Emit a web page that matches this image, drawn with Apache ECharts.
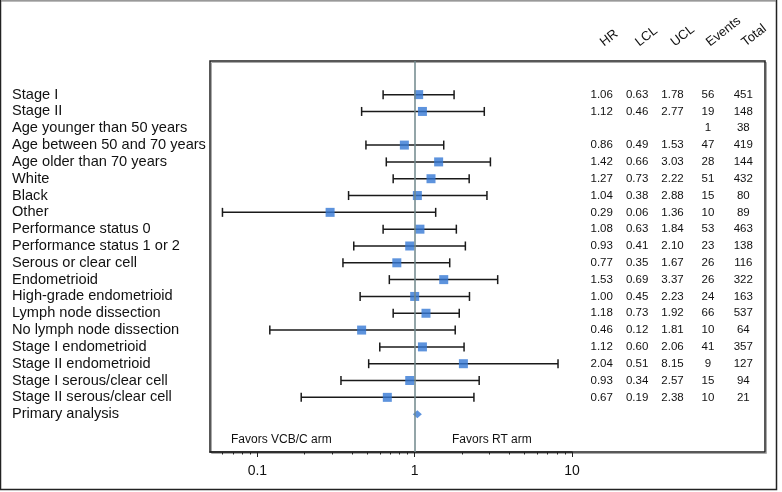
<!DOCTYPE html>
<html>
<head>
<meta charset="utf-8">
<script src="https://cdn.jsdelivr.net/npm/echarts@6/dist/echarts.min.js"></script>
<style>
html,body{margin:0;padding:0;background:#fff;}
#main{width:782px;height:492px;}
</style>
</head>
<body>
<div id="main"></div>
<script>
const rowLabels = [
  'Stage I','Stage II','Age younger than 50 years','Age between 50 and 70 years',
  'Age older than 70 years','White','Black','Other','Performance status 0',
  'Performance status 1 or 2','Serous or clear cell','Endometrioid',
  'High-grade endometrioid','Lymph node dissection','No lymph node dissection',
  'Stage I endometrioid','Stage II endometrioid','Stage I serous/clear cell',
  'Stage II serous/clear cell','Primary analysis'
];
const hr  = [1.06,1.12,null,0.86,1.42,1.27,1.04,0.29,1.08,0.93,0.77,1.53,1.00,1.18,0.46,1.12,2.04,0.93,0.67];
const lcl = [0.63,0.46,null,0.49,0.66,0.73,0.38,0.06,0.63,0.41,0.35,0.69,0.45,0.73,0.12,0.60,0.51,0.34,0.19];
const ucl = [1.78,2.77,null,1.53,3.03,2.22,2.88,1.36,1.84,2.10,1.67,3.37,2.23,1.92,1.81,2.06,8.15,2.57,2.38];
const events = [56,19,1,47,28,51,15,10,53,23,26,26,24,66,10,41,9,15,10];
const totals = [451,148,38,419,144,432,80,89,463,138,116,322,163,537,64,357,127,94,21];
const primaryHR = 1.04;
const primaryRow = 19;
const tableColumns = ['HR','LCL','UCL','Events','Total'];
const majorTicks = [0.1, 1, 10];
const minorTicks = [0.06,0.07,0.08,0.09,0.2,0.3,0.4,0.5,0.6,0.7,0.8,0.9,2,3,4,5,6,7,8,9];
const favorsLeft = 'Favors VCB/C arm';
const favorsRight = 'Favors RT arm';

const FONT = '"Liberation Sans", Arial, Helvetica, sans-serif';

const squareData = [];
const barData = [];
hr.forEach((v, i) => {
  if (v != null) {
    squareData.push([v, i]);
    barData.push([lcl[i], ucl[i], i]);
  }
});
const tableData = [];
const tableTexts = [];
const fmt2 = v => v.toFixed(2);
for (let i = 0; i < hr.length; i++) {
  const cols = [
    hr[i] != null ? fmt2(hr[i]) : null,
    lcl[i] != null ? fmt2(lcl[i]) : null,
    ucl[i] != null ? fmt2(ucl[i]) : null,
    events[i] != null ? String(events[i]) : null,
    totals[i] != null ? String(totals[i]) : null
  ];
  cols.forEach((t, c) => {
    if (t != null) { tableData.push([c, i]); tableTexts.push(t); }
  });
}

const yCommon = {
  type: 'value', inverse: true, min: -2, max: 21.25, interval: 1,
  splitLine: {show: false}, axisTick: {show: false}, axisLine: {show: false, onZero: false}
};

const chart = echarts.init(document.getElementById('main'), null, {renderer: 'canvas'});
chart.setOption({
  animation: false,
  backgroundColor: '#fff',
  grid: [
    {left: 210, top: 61, width: 362, bottom: 40},
    {left: 584, top: 61, width: 177, bottom: 40}
  ],
  xAxis: [
    {
      type: 'log', gridIndex: 0, min: 0.05, max: 10, position: 'bottom',
      axisLine: {show: true, onZero: false, lineStyle: {color: '#222', width: 1.5}},
      axisTick: {show: true, inside: false, length: 5, customValues: majorTicks, lineStyle: {color: '#222', width: 1}},
      axisLabel: {show: true, customValues: majorTicks, margin: 12, fontSize: 14, fontFamily: FONT, color: '#111',
        formatter: v => String(v)},
      splitLine: {show: false}
    },
    {
      type: 'log', gridIndex: 0, min: 0.05, max: 10, position: 'bottom',
      axisLine: {show: false, onZero: false},
      axisTick: {show: true, inside: false, length: 2.5, customValues: minorTicks, lineStyle: {color: '#222', width: 1}},
      axisLabel: {show: false},
      splitLine: {show: false}
    },
    {
      type: 'category', gridIndex: 1, data: tableColumns, position: 'top',
      axisLine: {show: false, onZero: false}, axisTick: {show: false},
      axisLabel: {show: true, rotate: -38, margin: 17, fontSize: 13, fontFamily: FONT, color: '#111', interval: 0},
      splitLine: {show: false}
    }
  ],
  yAxis: [
    Object.assign({}, yCommon, {
      gridIndex: 0,
      axisLabel: {
        show: true, align: 'left', margin: 198, fontSize: 14.6, fontFamily: FONT, color: '#111',
        formatter: v => (Number.isInteger(v) && rowLabels[v] !== undefined) ? rowLabels[v] : ''
      }
    }),
    Object.assign({}, yCommon, {gridIndex: 1, axisLabel: {show: false}})
  ],
  series: [
    {
      type: 'custom', xAxisIndex: 0, yAxisIndex: 0, z: 2, silent: true,
      data: barData,
      renderItem: function (params, api) {
        const p1 = api.coord([api.value(0), api.value(2)]);
        const p2 = api.coord([api.value(1), api.value(2)]);
        const h = 4.5;
        const st = {stroke: '#1a1a1a', lineWidth: 1.5};
        return {
          type: 'group',
          children: [
            {type: 'line', shape: {x1: p1[0], y1: p1[1], x2: p2[0], y2: p2[1]}, style: st},
            {type: 'line', shape: {x1: p1[0], y1: p1[1] - h, x2: p1[0], y2: p1[1] + h}, style: st},
            {type: 'line', shape: {x1: p2[0], y1: p2[1] - h, x2: p2[0], y2: p2[1] + h}, style: st}
          ]
        };
      },
      markLine: {
        silent: true, symbol: 'none', label: {show: false},
        lineStyle: {color: '#6f878b', width: 1.5, type: 'solid'},
        data: [{xAxis: 1}]
      }
    },
    {
      type: 'scatter', xAxisIndex: 0, yAxisIndex: 0, z: 4, silent: true,
      symbol: 'rect', symbolSize: 9,
      itemStyle: {color: '#3578d4'},
      data: squareData
    },
    {
      type: 'scatter', xAxisIndex: 0, yAxisIndex: 0, z: 4, silent: true,
      symbol: 'diamond', symbolSize: [9, 8],
      itemStyle: {color: '#3578d4'},
      data: [[primaryHR, primaryRow]]
    },
    {
      type: 'custom', xAxisIndex: 2, yAxisIndex: 1, z: 3, silent: true,
      data: tableData,
      renderItem: function (params, api) {
        const p = api.coord([api.value(0), api.value(1)]);
        return {
          type: 'text', x: p[0], y: p[1],
          style: {text: tableTexts[params.dataIndex], align: 'center', verticalAlign: 'middle',
            fontSize: 11.5, fontFamily: FONT, fill: '#111'}
        };
      }
    }
  ],
  graphic: [
    {type: 'rect', silent: true, z: 0, shape: {x: 211.5, y: 62.5, width: 555, height: 391},
      style: {fill: 'none', stroke: '#aaa', lineWidth: 1}},
    {type: 'rect', silent: true, z: 1, shape: {x: 210, y: 61, width: 555, height: 391},
      style: {fill: 'none', stroke: '#222', lineWidth: 1.5}},
    {type: 'rect', silent: true, z: 1, shape: {x: 0.5, y: 0.5, width: 776, height: 489},
      style: {fill: 'none', stroke: '#222', lineWidth: 1.5}},
    {type: 'line', silent: true, z: 2, shape: {x1: 1, y1: 0.5, x2: 776, y2: 0.5},
      style: {stroke: '#999', lineWidth: 1.5}},
    {type: 'text', silent: true, z: 3, x: 231, y: 440,
      style: {text: favorsLeft, fontSize: 12, fontFamily: FONT, fill: '#111', verticalAlign: 'middle'}},
    {type: 'text', silent: true, z: 3, x: 452, y: 440,
      style: {text: favorsRight, fontSize: 12, fontFamily: FONT, fill: '#111', verticalAlign: 'middle'}}
  ]
});
</script>
</body>
</html>
